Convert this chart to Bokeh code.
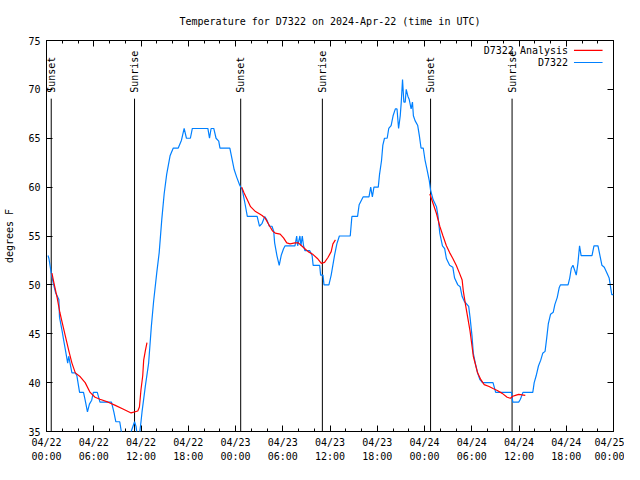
import math
from bokeh.plotting import figure
from bokeh.models import FixedTicker, LinearAxis, Range1d
from bokeh.embed import file_html
from bokeh.resources import INLINE
from bokeh.core.properties import value

FONT = "DejaVu Sans Mono"

# ---- data (hours since 2024-04-22 00:00 UTC, degrees F) ----
obs_hours = [0.19, 0.31, 0.60, 0.85, 1.15, 1.28, 1.57, 1.65, 1.98, 2.19, 2.41, 2.69, 2.82, 2.94,
             3.23, 3.66, 3.86, 4.20, 4.70, 4.91, 5.20, 5.45, 5.74, 5.95, 6.45, 6.79, 8.25, 8.55,
             8.80, 9.30, 9.50, 9.84, 10.46, 10.75, 11.18, 11.38, 11.53, 11.78, 12.00, 12.13,
             12.56, 12.97, 13.31, 13.60, 14.01, 14.31, 14.64, 14.94, 15.26, 15.69, 16.10, 16.73,
             17.14, 17.48, 17.77, 18.27, 18.52, 20.49, 20.70, 20.90, 21.24, 21.53, 21.87, 22.03,
             23.28, 23.53, 23.83, 24.16, 24.54, 24.87, 25.21, 25.50, 26.75, 27.04, 27.38, 27.71,
             28.01, 28.30, 28.63, 28.85, 28.97, 29.26, 29.55, 29.80, 30.10, 30.30, 31.55, 31.77,
             31.89, 32.18, 32.31, 32.48, 32.64, 32.81, 33.43, 33.73, 33.86, 34.69, 34.81, 35.11,
             35.24, 35.86, 36.15, 36.57, 36.87, 37.19, 38.57, 38.78, 39.50, 39.70, 40.20, 40.95,
             41.17, 41.38, 41.58, 42.13, 42.29, 42.54, 42.71, 42.92, 43.26, 43.46, 43.76, 44.01,
             44.30, 44.51, 44.71, 44.92, 45.05, 45.21, 45.38, 45.55, 45.68, 45.89, 46.05, 46.30,
             46.47, 46.59, 46.80, 47.14, 47.34, 47.56, 47.84, 48.06, 48.27, 48.60, 48.77, 49.10,
             49.52, 49.72, 49.94, 50.28, 50.56, 50.78, 51.19, 51.60, 51.82, 52.23, 52.53, 52.78,
             53.07, 53.61, 53.78, 54.04, 54.20, 54.45, 54.74, 55.04, 55.36, 56.70, 57.04, 59.05,
             59.21, 59.96, 60.18, 60.50, 61.75, 61.93, 62.18, 62.47, 62.76, 63.01, 63.31, 63.51,
             63.72, 64.01, 64.35, 64.56, 64.85, 65.10, 65.26, 66.23, 66.44, 66.64, 66.85, 67.07,
             67.27, 67.48, 67.69, 67.89, 69.27, 69.52, 70.03, 70.28, 70.53, 70.83, 71.12, 71.45,
             71.78, 72.00]
obs_temps = [53.0, 52.7, 51.2, 50.2, 49.2, 49.0, 48.5, 46.7, 45.3, 44.3, 43.3, 42.0, 42.7, 42.2,
             41.0, 41.0, 40.7, 39.0, 39.0, 38.2, 37.0, 37.8, 38.2, 39.0, 39.0, 38.0, 38.0, 37.0,
             36.0, 36.0, 35.0, 34.0, 34.0, 35.0, 36.0, 35.5, 34.5, 34.5, 36.0, 37.0,
             39.7, 42.0, 45.7, 48.3, 51.3, 53.3, 56.7, 59.3, 61.3, 63.2, 64.0, 64.0,
             64.8, 66.0, 65.0, 65.0, 66.0, 66.0, 65.0, 66.0, 66.0, 65.0, 64.7, 64.0,
             64.0, 63.0, 61.8, 61.0, 60.2, 59.7, 58.3, 57.0, 57.0, 56.0, 56.3, 57.0,
             56.6, 56.0, 56.0, 55.5, 54.3, 53.0, 52.0, 53.0, 53.7, 54.0, 54.0, 55.0,
             54.0, 55.0, 54.0, 55.0, 54.0, 53.5, 53.5, 53.0, 52.0, 52.0, 51.0, 51.0,
             50.0, 50.0, 51.0, 53.0, 54.2, 55.0, 55.0, 57.0, 57.0, 58.2, 59.0, 59.0,
             60.0, 59.0, 60.0, 60.0, 61.3, 62.7, 64.3, 65.0, 65.0, 66.0, 66.3, 67.3,
             68.0, 68.0, 66.0, 67.3, 68.7, 71.0, 68.7, 68.7, 70.0, 69.3, 69.0, 68.0,
             68.7, 67.3, 66.8, 66.3, 65.3, 64.0, 64.0, 62.8, 62.0, 60.7, 59.7, 58.7,
             58.0, 57.0, 55.3, 54.0, 53.7, 52.7, 52.0, 51.8, 50.7, 50.0, 49.8, 48.8,
             48.3, 47.8, 46.7, 44.7, 43.0, 42.0, 41.0, 40.3, 40.0, 40.0, 39.0, 39.0,
             38.0, 38.0, 38.3, 39.0, 39.0, 40.0, 40.7, 41.7, 42.3, 43.0, 43.2, 44.5,
             46.0, 47.0, 47.2, 48.0, 48.7, 49.7, 50.0, 50.0, 50.7, 51.7, 52.0, 51.5,
             51.0, 52.2, 54.0, 53.0, 53.0, 54.0, 54.0, 53.0, 52.0, 51.8, 51.3, 50.7,
             49.0, 49.0]

nan = float("nan")
ana_hours = [0.69, 0.94, 1.35, 1.69, 1.98, 2.41, 2.82, 3.23, 3.66, 4.29, 4.91, 5.54, 6.17, 6.79,
             7.83, 8.67, 9.71, 10.75, 11.59, 11.80, 12.00, 12.22, 12.34, 12.56, 12.76,
             nan,
             24.79, 25.09, 25.50, 25.91, 26.54, 26.97, 27.38, 27.79, 28.13, 28.42, 28.72, 29.05,
             29.67, 30.10, 30.51, 30.93, 31.55, 31.98, 32.39, 32.81, 33.23, 33.86, 34.40, 34.90,
             35.31, 35.74, 36.15, 36.37, 36.69,
             nan,
             48.68, 49.10, 49.52, 49.94, 50.35, 50.78, 51.19, 51.60, 52.03, 52.44, 52.78, 52.94,
             53.20, 53.48, 53.78, 54.04, 54.20, 54.74, 55.16, 55.58, 56.20, 56.70, 57.24, 57.87,
             58.50, 58.92, 59.21, 59.55, 59.96, 60.80]
ana_temps = [51.2, 50.2, 48.7, 47.2, 46.2, 44.7, 43.3, 42.0, 41.0, 40.6, 40.0, 39.0, 38.5, 38.3,
             38.0, 37.7, 37.3, 36.9, 37.1, 37.5, 39.3, 40.7, 42.3, 43.3, 44.1,
             nan,
             60.0, 59.4, 58.7, 58.0, 57.5, 57.3, 57.1, 56.8, 56.3, 55.9, 55.5, 55.3,
             55.2, 54.8, 54.3, 54.2, 54.3, 54.3, 54.0, 53.7, 53.4, 53.1, 52.7, 52.2,
             52.3, 52.8, 53.4, 54.2, 54.6,
             nan,
             59.3, 58.3, 57.3, 56.0, 55.0, 54.0, 53.3, 52.7, 52.0, 51.2, 50.5, 49.3,
             48.0, 46.7, 45.3, 43.7, 42.7, 41.0, 40.3, 39.8, 39.6, 39.4, 39.2, 38.9,
             38.5, 38.4, 38.6, 38.7, 38.8, 38.7]

sun_hours = [0.60, 11.18, 24.66, 35.03, 48.77, 59.12]
sun_labels = ["Sunset", "Sunrise", "Sunset", "Sunrise", "Sunset", "Sunrise"]

x_ticks = [0, 6, 12, 18, 24, 30, 36, 42, 48, 54, 60, 66, 72]
x_tick_labels = ["04/22\n00:00", "04/22\n06:00", "04/22\n12:00", "04/22\n18:00",
                 "04/23\n00:00", "04/23\n06:00", "04/23\n12:00", "04/23\n18:00",
                 "04/24\n00:00", "04/24\n06:00", "04/24\n12:00", "04/24\n18:00",
                 "04/25\n00:00"]
x_minor = [h for h in range(0, 73, 2)]
y_ticks = [35, 40, 45, 50, 55, 60, 65, 70, 75]

legend_names = ["D7322 Analysis", "D7322"]
legend_colors = ["#ff0000", "#0080ff"]
legend_y = [74.0, 72.75]

RED = "#ff0000"
BLUE = "#0080ff"

p = figure(width=624, height=464, output_backend="svg", toolbar_location=None,
           x_range=Range1d(0, 72), y_range=Range1d(35, 75),
           min_border_left=46, min_border_right=11, min_border_top=40, min_border_bottom=30)
p.grid.visible = False
p.outline_line_color = "black"
p.outline_line_width = 1
p.outline_line_alpha = 1.0
p.background_fill_color = "white"
p.border_fill_color = "white"

p.title.text = "Temperature for D7322 on 2024-Apr-22 (time in UTC)"
p.title.align = "center"
p.title.text_font = FONT
p.title.text_font_size = "10px"
p.title.text_font_style = "normal"
p.title.text_color = "black"
p.title.standoff = 27

xt = FixedTicker(ticks=x_ticks, minor_ticks=x_minor)
yt = FixedTicker(ticks=y_ticks, minor_ticks=[])

def style_axis(ax, show_labels):
    ax.axis_line_color = None
    ax.major_tick_in = 6
    ax.major_tick_out = 0
    ax.minor_tick_in = 3
    ax.minor_tick_out = 0
    ax.major_tick_line_color = "black"
    ax.minor_tick_line_color = "black"
    ax.major_label_text_font = FONT
    ax.major_label_text_font_size = "10px" if show_labels else "0px"
    ax.major_label_text_color = "black"
    if not show_labels:
        ax.major_label_standoff = 0

xa = p.xaxis[0]
xa.ticker = xt
xa.major_label_overrides = {t: lab for t, lab in zip(x_ticks, x_tick_labels)}
style_axis(xa, True)
xa.major_label_standoff = 5
xa.major_label_text_line_height = 1.3

ya = p.yaxis[0]
ya.ticker = yt
style_axis(ya, True)
ya.major_label_standoff = 6
ya.axis_label = "degrees F"
ya.axis_label_text_font = FONT
ya.axis_label_text_font_size = "10px"
ya.axis_label_text_font_style = "normal"
ya.axis_label_text_color = "black"
ya.axis_label_standoff = 10

top = LinearAxis(ticker=xt)
style_axis(top, False)
top.major_label_overrides = {t: "" for t in x_ticks}
p.add_layout(top, "above")

right = LinearAxis(ticker=yt)
style_axis(right, False)
right.major_label_overrides = {t: "" for t in y_ticks}
p.add_layout(right, "right")

# sunrise / sunset markers
p.segment(x0=sun_hours, y0=[35] * len(sun_hours), x1=sun_hours, y1=[69.05] * len(sun_hours),
          line_color="black", line_width=1)
p.text(x=sun_hours, y=[69.65] * len(sun_hours), text=sun_labels, angle=math.pi / 2,
       text_align="left", text_baseline="middle", text_font=value(FONT),
       text_font_size="10px", text_color="black")

# series
p.line(obs_hours, obs_temps, line_color=BLUE, line_width=1.2)
p.line(ana_hours, ana_temps, line_color=RED, line_width=1.2)

# legend (gnuplot style: text then sample line)
p.text(x=[66.23] * 2, y=legend_y, text=legend_names, text_align="right", text_baseline="middle",
       text_font=value(FONT), text_font_size="10px", text_color="black")
p.segment(x0=[66.98] * 2, y0=legend_y, x1=[70.61] * 2, y1=legend_y,
          line_color=legend_colors, line_width=1.2)

open("out.html", "w").write(file_html(p, INLINE))
